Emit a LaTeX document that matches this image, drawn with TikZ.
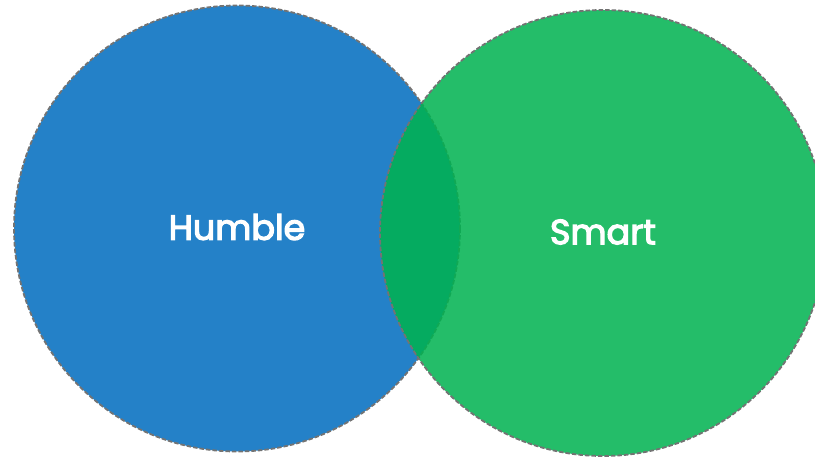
\documentclass[tikz,border=0pt]{standalone}
\usepackage{fontspec}
\newfontfamily\lblfont{Poppins}[FakeBold=3.5]
\begin{document}
\begin{tikzpicture}[x=1pt,y=-1pt,
  circ/.style={draw=black!55, line width=1.8pt, dash pattern=on 4.5pt off 2pt},
  lbl/.style={text=white, font=\lblfont\fontsize{35}{40}\selectfont}]
\definecolor{vblue}{RGB}{36,129,200}
\definecolor{vgreen}{RGB}{0,178,80}
\useasboundingbox (0,0) rectangle (815,457);
\begin{scope}
\clip (0,0) rectangle (815,457);
\coordinate (cb) at (237,228.5);
\coordinate (cg) at (603,233);
\fill[vblue] (cb) circle (223);
\draw[circ] (cb) circle (223);
\fill[vgreen, fill opacity=0.86] (cg) circle (223);
\draw[circ] (cg) circle (223);
\end{scope}
\node[lbl] (h) at (237,227) {Humble};
\node[lbl] (s) at (603,232) {Smart};
\end{tikzpicture}
\end{document}
